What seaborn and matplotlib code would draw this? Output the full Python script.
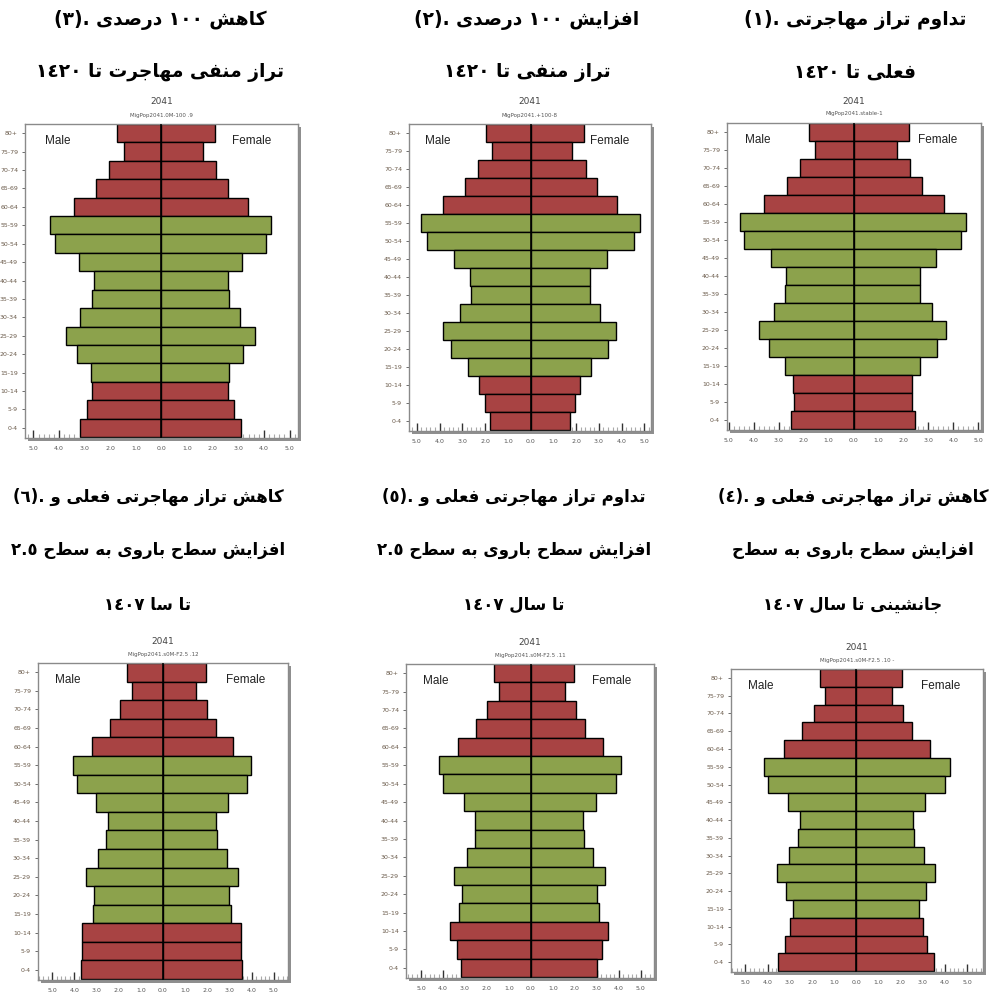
import re
import matplotlib
matplotlib.use("Agg")
import matplotlib.pyplot as plt
from matplotlib import font_manager
from matplotlib.ft2font import FT2Font
from matplotlib.patches import Rectangle
from matplotlib.ticker import FixedLocator, MultipleLocator
import seaborn as sns

# ---------------------------------------------------------------- data
ages = ["80+", "75-79", "70-74", "65-69", "60-64", "55-59", "50-54", "45-49",
        "40-44", "35-39", "30-34", "25-29", "20-24", "15-19", "10-14", "5-9", "0-4"]
band = ["old"] * 5 + ["working"] * 9 + ["young"] * 3

# (1) current migration balance kept
male_1 = [1.80, 1.56, 2.15, 2.67, 3.60, 4.56, 4.37, 3.32, 2.71, 2.75, 3.17, 3.80, 3.40, 2.73, 2.43, 2.39, 2.51]
female_1 = [2.24, 1.73, 2.27, 2.73, 3.64, 4.52, 4.29, 3.31, 2.67, 2.68, 3.13, 3.72, 3.33, 2.67, 2.36, 2.33, 2.45]
# (2) +100% negative balance
male_2 = [1.95, 1.69, 2.33, 2.86, 3.83, 4.82, 4.56, 3.37, 2.65, 2.61, 3.11, 3.86, 3.49, 2.73, 2.26, 2.01, 1.79]
female_2 = [2.36, 1.82, 2.42, 2.90, 3.81, 4.79, 4.53, 3.37, 2.62, 2.60, 3.05, 3.77, 3.40, 2.67, 2.17, 1.95, 1.72]
# (3) -100% negative balance
male_3 = [1.73, 1.47, 2.05, 2.55, 3.42, 4.35, 4.17, 3.22, 2.65, 2.73, 3.17, 3.73, 3.31, 2.75, 2.70, 2.92, 3.18]
female_3 = [2.08, 1.61, 2.14, 2.58, 3.39, 4.29, 4.09, 3.16, 2.58, 2.65, 3.06, 3.65, 3.18, 2.64, 2.61, 2.82, 3.09]
# (4) lower migration, replacement fertility
male_4 = [1.62, 1.41, 1.93, 2.43, 3.28, 4.18, 4.00, 3.10, 2.55, 2.61, 3.04, 3.58, 3.16, 2.86, 3.01, 3.21, 3.51]
female_4 = [2.04, 1.62, 2.11, 2.53, 3.34, 4.20, 4.00, 3.10, 2.56, 2.61, 3.03, 3.55, 3.15, 2.83, 3.01, 3.19, 3.48]
# (5) current migration, fertility 2.5
male_5 = [1.67, 1.47, 2.00, 2.48, 3.32, 4.20, 4.00, 3.06, 2.52, 2.52, 2.92, 3.48, 3.12, 3.26, 3.67, 3.38, 3.18]
female_5 = [1.97, 1.53, 2.05, 2.45, 3.27, 4.11, 3.89, 2.95, 2.39, 2.42, 2.82, 3.36, 3.00, 3.12, 3.50, 3.24, 3.03]
# (6) lower migration, fertility 2.5
male_6 = [1.62, 1.40, 1.92, 2.38, 3.20, 4.06, 3.86, 3.02, 2.50, 2.57, 2.95, 3.49, 3.10, 3.16, 3.65, 3.65, 3.70]
female_6 = [1.92, 1.50, 1.98, 2.41, 3.16, 3.95, 3.79, 2.93, 2.41, 2.45, 2.90, 3.38, 2.99, 3.05, 3.52, 3.50, 3.55]

tick_values = [-5, -4, -3, -2, -1, 0, 1, 2, 3, 4, 5]
tick_labels = ["5.0", "4.0", "3.0", "2.0", "1.0", "0.0", "1.0", "2.0", "3.0", "4.0", "5.0"]
year_label = "2041"
sex_labels = ("Male", "Female")

subtitles = {
    1: "MigPop2041.stable-1",
    2: "MigPop2041.+100-8",
    3: "MigPop2041.0M-100 .9",
    4: "MigPop2041.s0M-F2.5 .10 -",
    5: "MigPop2041.s0M-F2.5 .11",
    6: "MigPop2041.s0M-F2.5 .12",
}

titles = {
    1: ["١", "تداوم تراز مهاجرتی", "فعلی تا ١٤٢٠"],
    2: ["٢", "افزایش ١٠٠ درصدی", "تراز منفی تا ١٤٢٠"],
    3: ["٣", "کاهش ١٠٠ درصدی", "تراز منفی مهاجرت تا ١٤٢٠"],
    4: ["٤", "کاهش تراز مهاجرتی فعلی و", "افزایش سطح باروی به سطح", "جانشینی تا سال ١٤٠٧"],
    5: ["٥", "تداوم تراز مهاجرتی فعلی و", "افزایش سطح باروی به سطح ٢.٥", "تا سال ١٤٠٧"],
    6: ["٦", "کاهش تراز مهاجرتی فعلی و", "افزایش سطح باروی به سطح ٢.٥", "تا سا ١٤٠٧"],
}

series = {
    1: (male_1, female_1), 2: (male_2, female_2), 3: (male_3, female_3),
    4: (male_4, female_4), 5: (male_5, female_5), 6: (male_6, female_6),
}

# ---------------------------------------------------------------- layout (pixels)
W, H = 995, 997
# axes box (left, top, right, bottom), x-limits, caption centre x, caption line y's
layout = {
    3: dict(box=(25, 124, 298, 438), xlim=(-5.33, 5.33), cx=160, ty=(20, 72), fs=13.4),
    2: dict(box=(409, 124, 651, 431), xlim=(-5.34, 5.29), cx=527, ty=(20, 72), fs=13.4),
    1: dict(box=(727, 123, 981, 430), xlim=(-5.07, 5.11), cx=855, ty=(20, 72), fs=13.4),
    6: dict(box=(38, 663, 288, 980), xlim=(-5.64, 5.64), cx=148, ty=(497, 550, 605), fs=12),
    5: dict(box=(406, 664, 654, 978), xlim=(-5.68, 5.60), cx=514, ty=(497, 550, 605), fs=12),
    4: dict(box=(731, 669, 983, 972), xlim=(-5.65, 5.71), cx=853, ty=(497, 550, 605), fs=12),
}

RED = "#a84343"
GREEN = "#8ca24c"
palette = {"old": RED, "working": GREEN, "young": RED}

# ---------------------------------------------------------------- Persian text shaping
# presentation forms: isolated, final, initial, medial
FORMS = {
    "\u0627": (0xFE8D, 0xFE8E, None, None),
    "\u0628": (0xFE8F, 0xFE90, 0xFE91, 0xFE92),
    "\u062A": (0xFE95, 0xFE96, 0xFE97, 0xFE98),
    "\u062C": (0xFE9D, 0xFE9E, 0xFE9F, 0xFEA0),
    "\u062F": (0xFEA9, 0xFEAA, None, None),
    "\u0631": (0xFEAD, 0xFEAE, None, None),
    "\u0632": (0xFEAF, 0xFEB0, None, None),
    "\u0633": (0xFEB1, 0xFEB2, 0xFEB3, 0xFEB4),
    "\u0634": (0xFEB5, 0xFEB6, 0xFEB7, 0xFEB8),
    "\u0635": (0xFEB9, 0xFEBA, 0xFEBB, 0xFEBC),
    "\u0637": (0xFEC1, 0xFEC2, 0xFEC3, 0xFEC4),
    "\u0639": (0xFEC9, 0xFECA, 0xFECB, 0xFECC),
    "\u0641": (0xFED1, 0xFED2, 0xFED3, 0xFED4),
    "\u0644": (0xFEDD, 0xFEDE, 0xFEDF, 0xFEE0),
    "\u0645": (0xFEE1, 0xFEE2, 0xFEE3, 0xFEE4),
    "\u0646": (0xFEE5, 0xFEE6, 0xFEE7, 0xFEE8),
    "\u0647": (0xFEE9, 0xFEEA, 0xFEEB, 0xFEEC),
    "\u0648": (0xFEED, 0xFEEE, None, None),
    "\u06CC": (0xFBFC, 0xFBFD, 0xFBFE, 0xFBFF),
    "\u06A9": (0xFB8E, 0xFB8F, 0xFB90, 0xFB91),
}

title_font = font_manager.findfont(
    font_manager.FontProperties(family="DejaVu Sans", weight="bold"))
charmap = FT2Font(title_font).get_charmap()
if 0xFBFC not in charmap:
    FORMS["\u06CC"] = (0xFEEF, 0xFEF0, 0xFEF3, 0xFEF4)
if 0xFB8E not in charmap:
    FORMS["\u06A9"] = (0xFED9, 0xFEDA, 0xFEDB, 0xFEDC)


def shape(text):
    out = []
    for i, ch in enumerate(text):
        if ch not in FORMS:
            out.append(ch)
            continue
        iso, fin, ini, med = FORMS[ch]
        prev = text[i - 1] if i > 0 else ""
        nxt = text[i + 1] if i + 1 < len(text) else ""
        join_prev = prev in FORMS and FORMS[prev][2] is not None
        join_next = ini is not None and nxt in FORMS
        if join_prev and join_next:
            cp = med
        elif join_prev:
            cp = fin
        elif join_next:
            cp = ini
        else:
            cp = iso
        out.append(chr(cp))
    return "".join(out)


def rtl(text):
    s = shape(text)[::-1]
    return re.sub(r"[\u0660-\u0669][\u0660-\u0669.]*", lambda m: m.group(0)[::-1], s)


# ---------------------------------------------------------------- drawing
sns.set_theme(style="white")
plt.rcParams["font.family"] = ["DejaVu Sans"]

fig = plt.figure(figsize=(W / 100, H / 100), dpi=100)
fig.patch.set_facecolor("white")


def px_axes(l, t, r, b):
    return fig.add_axes([l / W, 1 - b / H, (r - l) / W, (b - t) / H])


for key, lay in layout.items():
    l, t, r, b = lay["box"]
    male, female = series[key]

    # drop shadow behind the chart frame
    fig.add_artist(Rectangle(((l + 3) / W, 1 - (b + 3) / H), (r - l) / W, (b - t) / H,
                             transform=fig.transFigure, facecolor="#8f8f8f",
                             edgecolor="none", zorder=-1))

    ax = px_axes(l, t, r, b)
    ax.set_facecolor("white")
    sns.barplot(x=[-v for v in male], y=ages, hue=band, palette=palette, order=ages,
                dodge=False, width=1.0, saturation=1, edgecolor="black",
                linewidth=1.0, legend=False, orient="h", ax=ax)
    sns.barplot(x=female, y=ages, hue=band, palette=palette, order=ages,
                dodge=False, width=1.0, saturation=1, edgecolor="black",
                linewidth=1.0, legend=False, orient="h", ax=ax)
    ax.axvline(0, color="black", lw=1.1, zorder=5)

    ax.set_xlim(*lay["xlim"])
    ax.set_ylim(len(ages) - 0.5 + 0.05, -0.5)
    ax.set_xlabel("")
    ax.set_ylabel("")

    ax.xaxis.set_major_locator(FixedLocator(tick_values))
    ax.set_xticklabels(tick_labels)
    ax.xaxis.set_minor_locator(MultipleLocator(0.2))
    ax.tick_params(axis="x", which="major", direction="in", length=6, width=1,
                   color="#333333", labelsize=4.5, labelcolor="#555555", pad=6,
                   bottom=True)
    ax.tick_params(axis="x", which="minor", direction="in", length=3, width=0.8,
                   color="#aaaaaa", bottom=True)
    ax.tick_params(axis="y", which="major", direction="out", length=2, width=0.6,
                   color="#555555", labelsize=4.5, labelcolor="#6a5a4a", pad=3,
                   left=True)
    for side, sp in ax.spines.items():
        sp.set_color("#8a8a8a")
        sp.set_linewidth(1.0)

    ax.text(0.12, 0.945, sex_labels[0], transform=ax.transAxes, ha="center",
            va="center", fontsize=8.5, color="#222222", family="Liberation Sans")
    ax.text(0.83, 0.945, sex_labels[1], transform=ax.transAxes, ha="center",
            va="center", fontsize=8.5, color="#222222", family="Liberation Sans")

    acx = (l + r) / 2
    fig.text(acx / W, 1 - (t - 22) / H, year_label, ha="center", va="center",
             fontsize=6.5, color="#444444")
    fig.text(acx / W, 1 - (t - 9) / H, subtitles[key], ha="center", va="center",
             fontsize=4, color="#555555")

    # Persian caption above each pyramid
    num, *phrases = titles[key]
    lines = [f"({num}). " + rtl(phrases[0])] + [rtl(p) for p in phrases[1:]]
    for y, s in zip(lay["ty"], lines):
        fig.text(lay["cx"] / W, 1 - y / H, s, ha="center", va="center",
                 fontsize=lay["fs"], fontweight="bold", color="black",
                 family=["DejaVu Sans"])

fig.savefig("out.png", dpi=100, facecolor="white")
